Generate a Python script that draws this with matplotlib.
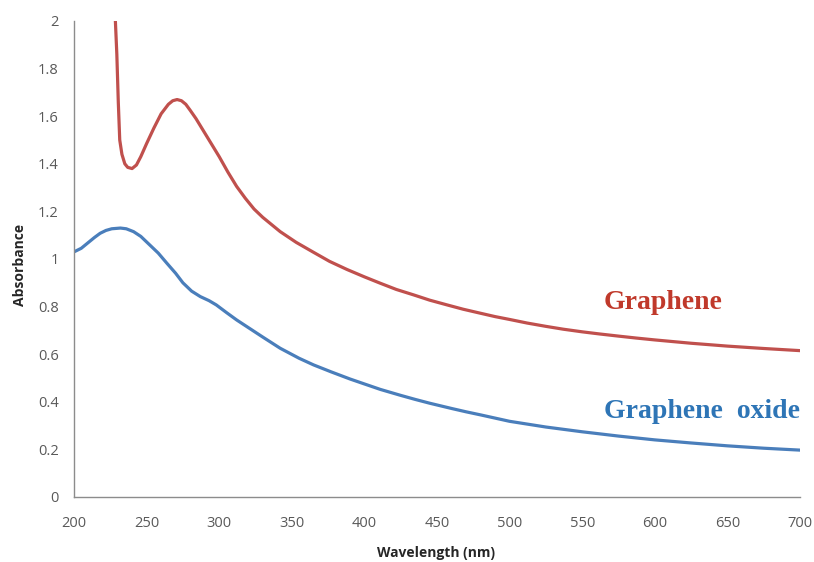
import matplotlib
matplotlib.use("Agg")
import matplotlib.pyplot as plt

# Graphene (red)
gr_wl = [228.5, 229.5, 230.5, 231.5, 233, 235, 237, 240, 243, 246, 250, 255, 260, 265, 268, 271, 274, 277,
         280, 284, 289, 294, 300, 306, 312, 318, 324, 330, 335, 342, 353, 365, 376, 388, 400, 411, 422, 434,
         445, 457, 468, 480, 490, 500, 512, 525, 537, 550, 562, 575, 587, 600, 625, 650, 675, 700]
gr_ab = [2.0, 1.86, 1.66, 1.50, 1.44, 1.40, 1.385, 1.38, 1.395, 1.43, 1.485, 1.55, 1.61, 1.65, 1.665, 1.67, 1.665, 1.65,
         1.625, 1.59, 1.54, 1.49, 1.43, 1.365, 1.305, 1.255, 1.21, 1.175, 1.15, 1.115, 1.07, 1.028, 0.99, 0.956, 0.925, 0.898, 0.872, 0.849,
         0.827, 0.807, 0.789, 0.772, 0.758, 0.746, 0.731, 0.717, 0.705, 0.694, 0.685, 0.676, 0.668, 0.66, 0.646, 0.634, 0.624, 0.615]

# Graphene oxide (blue)
go_wl = [200, 205, 210, 214, 218, 222, 226, 232, 236, 241, 246, 252, 258, 264, 270, 275, 281, 287, 293, 298,
         305, 312, 320, 330, 342, 355, 365, 377, 390, 400, 411, 425, 435, 445, 460, 470, 480, 500, 525, 550, 575,
         600, 625, 650, 675, 700]
go_ab = [1.03, 1.045, 1.07, 1.09, 1.108, 1.12, 1.127, 1.13, 1.127, 1.115, 1.095, 1.06, 1.025, 0.982, 0.94, 0.90, 0.865, 0.842, 0.825, 0.807,
         0.775, 0.744, 0.712, 0.672, 0.625, 0.583, 0.555, 0.526, 0.496, 0.475, 0.452, 0.427, 0.41, 0.394, 0.372, 0.358, 0.345, 0.318, 0.294, 0.274, 0.256,
         0.24, 0.227, 0.215, 0.205, 0.197]

x_ticks = [200, 250, 300, 350, 400, 450, 500, 550, 600, 650, 700]
y_ticks = [0, 0.2, 0.4, 0.6, 0.8, 1.0, 1.2, 1.4, 1.6, 1.8, 2.0]
y_tick_labels = ["0", "0.2", "0.4", "0.6", "0.8", "1", "1.2", "1.4", "1.6", "1.8", "2"]

fig = plt.figure(figsize=(8.14, 5.62), dpi=100)
ax = fig.add_axes([74/814, 1-497/562, (800-74)/814, (497-21)/562])

ax.plot(gr_wl, gr_ab, color="#C0504D", lw=2.3, solid_capstyle="round", solid_joinstyle="round")
ax.plot(go_wl, go_ab, color="#4A7EBB", lw=2.3, solid_capstyle="round", solid_joinstyle="round")

ax.set_xlim(200, 700)
ax.set_ylim(0, 2)
ax.set_xticks(x_ticks)
ax.set_yticks(y_ticks)
ax.set_yticklabels(y_tick_labels)
for s in ["top", "right"]:
    ax.spines[s].set_visible(False)
for s in ["left", "bottom"]:
    ax.spines[s].set_color("#8C8C8C")
    ax.spines[s].set_linewidth(1.0)
ax.tick_params(axis="both", length=0, labelsize=10.5, labelcolor="#595959")
ax.tick_params(axis="y", pad=11)
ax.tick_params(axis="x", pad=14)
for lab in ax.get_xticklabels() + ax.get_yticklabels():
    lab.set_family("Open Sans")

ax.text(0.730, 0.395, "Graphene", transform=ax.transAxes, color="#C0392B",
        family="Liberation Serif", fontweight="bold", fontsize=20, ha="left", va="baseline")
ax.text(0.730, 0.166, "Graphene  oxide", transform=ax.transAxes, color="#2E75B6",
        family="Liberation Serif", fontweight="bold", fontsize=20, ha="left", va="baseline")

fig.text(436/814, 1-553/562, "Wavelength (nm)", ha="center", va="center",
         fontsize=10, fontweight="bold", family="Open Sans", color="#262626")
fig.text(20/814, 1-265/562, "Absorbance", ha="center", va="center", rotation=90,
         fontsize=10, fontweight="bold", family="Open Sans", color="#262626")

fig.savefig("out.png", dpi=100)
